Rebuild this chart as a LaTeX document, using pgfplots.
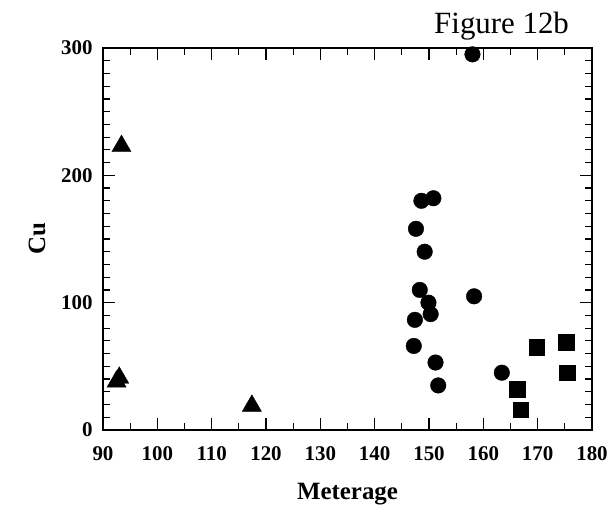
\documentclass[border=0pt]{standalone}
\usepackage{fontspec}
\setmainfont{Liberation Serif}
\usepackage{pgfplots}
\pgfplotsset{compat=1.18}

\begin{document}
\begin{tikzpicture}[x=1bp,y=1bp]
\useasboundingbox (-103,-86) rectangle (510,430);
\begin{axis}[
    at={(0,0)}, anchor=south west,
    scale only axis,
    width=489bp, height=382bp,
    xmin=90, xmax=180, ymin=0, ymax=300,
    xtick={90,100,...,180},
    ytick={0,100,200,300},
    minor x tick num=1,
    minor y tick num=9,
    tick align=inside,
    major tick length=12bp,
    minor tick length=7bp,
    every tick/.style={black, line width=1.2pt},
    axis line style={line width=1.6pt},
    /pgf/number format/assume math mode=true,
    tick label style={font=\bfseries\fontsize{21}{21}\selectfont},
    xticklabel style={yshift=-13bp},
    yticklabel style={xshift=-7bp},
    xlabel={Meterage},
    ylabel={Cu},
    label style={font=\bfseries\fontsize{25}{25}\selectfont},
    xlabel style={at={(axis description cs:0.5,0)}, anchor=center, yshift=-64bp},
    every axis y label/.append style={at={(axis description cs:-0.135,0.5)}, anchor=center},
    clip=false,
]
% circles
\addplot[only marks, mark=*, mark size=7.8bp, black] coordinates {
    (158,295)
    (148.6,180) (150.8,182)
    (147.6,158)
    (149.2,140)
    (148.3,110)
    (149.9,100)
    (150.3,91)
    (147.4,86.5)
    (158.3,105)
    (147.2,66)
    (151.2,53)
    (151.7,35)
    (163.4,45)
};
% squares
\addplot[only marks, mark=square*, mark size=7.8bp, black] coordinates {
    (169.8,65) (175.2,69) (175.4,45) (166.2,32) (166.9,16)
};
% triangles
\addplot[only marks, mark=triangle*, mark size=11bp, black] coordinates {
    (93.4,223) (92.5,38) (93,41) (117.4,19)
};
\node[anchor=base east, font=\fontsize{31}{31}\selectfont]
    at (rel axis cs:0.96,1) [yshift=14bp] {Figure 12b};
\end{axis}
\end{tikzpicture}
\end{document}
